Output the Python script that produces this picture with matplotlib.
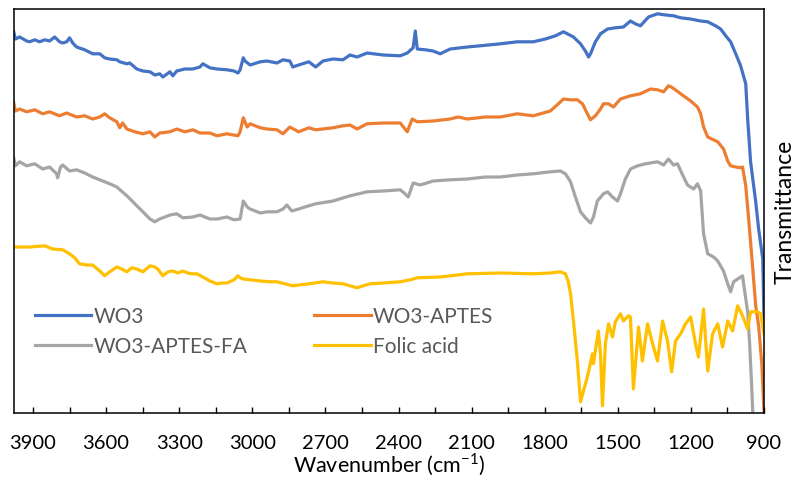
import matplotlib
matplotlib.use('Agg')
import matplotlib.pyplot as plt
from matplotlib.ticker import MultipleLocator

plt.rcParams['font.family'] = ['Lato', 'DejaVu Sans']
plt.rcParams['mathtext.fontset'] = 'custom'
plt.rcParams['mathtext.rm'] = 'Lato'

# FTIR spectra, wavenumber (cm-1) vs transmittance (offset, arbitrary units)
wn_wo3 = [3980, 3972, 3955, 3926, 3914, 3893, 3873, 3852, 3832, 3811, 3791, 3778, 3762, 3750, 3737,
          3721, 3688, 3655, 3626, 3606, 3585, 3556, 3544, 3515, 3503, 3474, 3449, 3420, 3400, 3380,
          3367, 3338, 3326, 3310, 3277, 3244, 3215, 3203, 3174, 3145, 3104, 3075, 3059, 3050, 3037,
          3030, 3009, 2967, 2940, 2899, 2874, 2846, 2834, 2810, 2768, 2740, 2710, 2669, 2628, 2599,
          2570, 2529, 2463, 2393, 2364, 2340, 2331, 2323, 2290, 2258, 2229, 2188, 2118, 2065, 1982,
          1913, 1847, 1797, 1756, 1723, 1707, 1682, 1653, 1633, 1620, 1612, 1592, 1571, 1542, 1510,
          1477, 1448, 1428, 1407, 1374, 1337, 1304, 1271, 1242, 1201, 1160, 1131, 1099, 1078, 1057,
          1037, 1016, 996, 975, 967, 955, 934, 922, 905, 900]
t_wo3 = [95.5, 93.5, 94.0, 93.0, 92.8, 93.3, 92.8, 93.3, 93.0, 94.0, 92.8, 92.5, 92.8, 93.8, 92.5,
         91.5, 90.8, 89.8, 89.8, 88.8, 88.5, 88.3, 87.8, 87.3, 87.5, 86.0, 85.5, 85.3, 84.5, 84.8,
         84.0, 85.3, 84.3, 85.5, 86.0, 86.0, 86.5, 87.3, 86.3, 86.0, 85.8, 85.5, 85.0, 85.8, 88.8,
         88.0, 87.0, 87.8, 88.0, 87.5, 88.3, 88.0, 86.5, 87.0, 87.8, 86.5, 88.0, 88.5, 88.3, 89.5,
         89.0, 90.0, 89.5, 89.3, 90.0, 91.3, 95.5, 91.0, 90.8, 90.5, 89.8, 91.0, 91.5, 91.8, 92.3,
         92.8, 92.8, 93.5, 94.3, 95.3, 94.8, 94.0, 92.3, 90.5, 89.0, 89.8, 92.8, 94.8, 96.0, 96.3,
         96.5, 98.0, 97.3, 96.8, 99.0, 99.8, 99.5, 99.3, 98.8, 98.5, 98.0, 97.8, 96.8, 96.0, 94.3,
         92.8, 89.8, 86.8, 82.3, 73.5, 62.8, 52.8, 46.0, 38.5, 23.5]

wn_aptes = [3980, 3972, 3955, 3926, 3893, 3860, 3832, 3791, 3762, 3721, 3688, 3655, 3626, 3606, 3585,
            3556, 3544, 3532, 3515, 3482, 3449, 3420, 3400, 3380, 3338, 3310, 3277, 3244, 3215, 3174,
            3145, 3104, 3059, 3050, 3037, 3021, 3009, 2967, 2940, 2899, 2874, 2846, 2810, 2768, 2740,
            2669, 2628, 2599, 2570, 2529, 2463, 2393, 2364, 2344, 2323, 2258, 2188, 2155, 2118, 2044,
            1982, 1913, 1847, 1777, 1744, 1723, 1694, 1666, 1645, 1629, 1612, 1592, 1571, 1559, 1538,
            1518, 1489, 1448, 1407, 1366, 1337, 1312, 1292, 1275, 1242, 1201, 1173, 1160, 1148, 1131,
            1090, 1066, 1049, 1037, 1016, 996, 988, 975, 963, 946, 934, 922, 909, 900]
t_aptes = [77.8, 75.5, 76.0, 75.3, 75.8, 74.8, 75.3, 74.3, 75.0, 74.0, 74.3, 73.5, 74.0, 74.8, 73.8,
           72.8, 71.3, 72.5, 71.0, 70.3, 69.8, 70.3, 69.0, 70.0, 70.3, 71.0, 70.3, 70.8, 70.0, 70.0,
           69.3, 69.8, 69.3, 70.3, 73.8, 71.5, 72.3, 71.3, 71.0, 70.8, 69.8, 71.5, 70.3, 71.3, 70.8,
           71.3, 71.8, 72.0, 71.0, 72.3, 72.5, 72.5, 70.3, 73.5, 72.8, 73.0, 73.5, 74.0, 73.5, 74.0,
           74.0, 74.8, 74.3, 75.5, 77.3, 78.5, 78.3, 78.3, 77.3, 75.3, 73.3, 74.3, 76.0, 77.3, 77.3,
           76.5, 78.5, 79.3, 79.8, 81.0, 80.8, 80.3, 81.8, 81.3, 79.8, 78.0, 76.5, 74.8, 71.5, 69.0,
           67.8, 66.0, 63.0, 61.8, 61.5, 61.3, 61.5, 56.8, 48.5, 36.0, 26.8, 21.8, 12.3, 0.3]

wn_fa_conj = [3980, 3972, 3955, 3926, 3893, 3860, 3832, 3803, 3799, 3787, 3778, 3750, 3721, 3688, 3655,
              3626, 3585, 3556, 3515, 3490, 3474, 3449, 3420, 3400, 3380, 3359, 3338, 3310, 3285, 3244,
              3215, 3174, 3145, 3104, 3075, 3050, 3037, 3021, 3009, 2967, 2940, 2899, 2874, 2858, 2838,
              2810, 2768, 2740, 2669, 2599, 2529, 2463, 2393, 2373, 2360, 2340, 2311, 2258, 2188, 2118,
              2044, 1982, 1913, 1847, 1777, 1736, 1715, 1694, 1674, 1653, 1633, 1612, 1600, 1584, 1559,
              1542, 1522, 1501, 1489, 1469, 1448, 1419, 1387, 1337, 1312, 1292, 1271, 1255, 1230, 1214,
              1189, 1173, 1160, 1148, 1131, 1107, 1090, 1066, 1049, 1037, 1025, 1008, 988, 979, 967,
              959, 951, 946]
t_fa_conj = [64.0, 61.8, 62.8, 61.8, 62.3, 61.0, 61.5, 59.8, 58.8, 61.5, 62.0, 60.5, 60.8, 60.0, 59.0,
             58.3, 57.3, 56.5, 54.3, 52.8, 51.8, 50.3, 48.5, 47.8, 48.5, 49.0, 49.5, 49.8, 48.8, 49.0,
             49.5, 48.5, 48.5, 49.0, 48.3, 48.5, 53.0, 51.5, 51.0, 50.0, 50.3, 50.3, 51.0, 52.0, 50.5,
             51.0, 51.8, 52.3, 53.0, 54.3, 55.3, 55.5, 55.8, 54.8, 54.0, 57.5, 57.0, 58.0, 58.3, 58.5,
             59.0, 59.0, 59.5, 59.8, 60.3, 60.5, 59.8, 57.8, 54.0, 50.3, 48.8, 47.5, 49.0, 53.0, 54.8,
             55.3, 54.0, 53.0, 54.8, 58.5, 61.0, 61.8, 62.3, 62.8, 62.0, 63.5, 62.0, 62.3, 59.0, 57.0,
             56.0, 57.3, 55.5, 44.8, 39.8, 39.0, 38.0, 35.5, 32.3, 30.3, 32.8, 33.5, 34.3, 30.3, 25.3,
             17.3, 7.3, 0.0]

wn_folic = [3980, 3914, 3852, 3820, 3778, 3750, 3729, 3709, 3680, 3655, 3626, 3606, 3585, 3556, 3536,
            3515, 3495, 3474, 3449, 3420, 3400, 3388, 3367, 3346, 3326, 3306, 3285, 3265, 3248, 3227,
            3203, 3174, 3145, 3124, 3104, 3075, 3059, 3050, 3037, 3009, 2967, 2927, 2899, 2866, 2834,
            2810, 2768, 2710, 2669, 2628, 2599, 2570, 2545, 2517, 2463, 2393, 2352, 2323, 2229, 2118,
            1982, 1847, 1777, 1736, 1715, 1703, 1694, 1682, 1666, 1653, 1641, 1625, 1604, 1600, 1580,
            1571, 1563, 1551, 1538, 1522, 1510, 1489, 1477, 1456, 1448, 1436, 1415, 1399, 1378, 1357,
            1337, 1316, 1296, 1279, 1263, 1242, 1222, 1201, 1181, 1169, 1148, 1131, 1111, 1090, 1070,
            1049, 1029, 1008, 988, 967, 955, 938, 926, 914, 900]
t_folic = [41.5, 41.5, 41.8, 41.0, 40.8, 39.8, 38.8, 37.3, 37.0, 37.0, 35.5, 34.3, 35.3, 36.5, 36.0,
           35.3, 36.3, 36.0, 35.3, 36.8, 36.5, 36.0, 34.3, 35.3, 35.5, 35.0, 35.5, 35.0, 34.8, 34.8,
           34.0, 33.0, 32.3, 32.5, 32.5, 33.3, 34.3, 33.8, 33.5, 33.3, 33.0, 32.8, 32.8, 32.3, 31.8,
           32.0, 32.3, 32.8, 32.5, 32.3, 31.8, 31.3, 31.8, 32.3, 32.5, 32.8, 33.3, 33.8, 34.0, 34.8,
           35.0, 34.8, 35.0, 35.3, 34.8, 32.8, 29.8, 23.0, 13.0, 2.8, 5.5, 9.0, 14.8, 12.3, 20.5,
           14.8, 1.8, 17.3, 22.3, 19.0, 22.8, 24.8, 23.0, 24.3, 24.0, 6.0, 21.5, 13.0, 22.3, 17.3,
           13.0, 23.0, 18.0, 10.3, 18.0, 19.8, 22.3, 24.0, 17.3, 14.0, 26.0, 10.5, 19.8, 22.3, 16.5,
           23.0, 20.5, 26.8, 24.3, 21.0, 25.3, 25.3, 25.3, 24.8, 19.8]

fig = plt.figure(figsize=(7.95, 4.85), dpi=100)
ax = fig.add_axes([14 / 795, 71 / 485, 750 / 795, 404 / 485])

lw = 2.3
l1, = ax.plot(wn_wo3, t_wo3, color='#4472C4', lw=lw, label='WO3')
l2, = ax.plot(wn_aptes, t_aptes, color='#ED7D31', lw=lw, label='WO3-APTES')
l3, = ax.plot(wn_fa_conj, t_fa_conj, color='#A5A5A5', lw=lw, label='WO3-APTES-FA')
l4, = ax.plot(wn_folic, t_folic, color='#FFC000', lw=lw, label='Folic acid')

ax.set_xlim(3978, 900)
ax.set_ylim(0, 101)
ax.xaxis.set_major_locator(MultipleLocator(300))
ax.xaxis.set_minor_locator(MultipleLocator(150))
ax.tick_params(axis='x', which='both', direction='in', length=4, width=1, colors='black')
ax.tick_params(axis='x', which='major', labelsize=14.5, pad=15)
ax.set_yticks([])
for s in ax.spines.values():
    s.set_color('black')
    s.set_linewidth(1.1)

ax.set_xlabel('Wavenumber (cm$^{-1}$)', fontsize=15.5, labelpad=0)
ax.yaxis.set_label_position('right')
ax.set_ylabel('Transmittance', fontsize=16.5, labelpad=8)

leg = ax.legend([l1, l3, l2, l4], ['WO3', 'WO3-APTES-FA', 'WO3-APTES', 'Folic acid'],
                ncol=2, frameon=False, fontsize=15, handlelength=2.7, handletextpad=0.12,
                labelspacing=0.5, columnspacing=3.2, borderpad=0, borderaxespad=0,
                loc='upper left', bbox_to_anchor=(35 / 795, 1 - 307 / 485),
                bbox_transform=fig.transFigure)
for t in leg.get_texts():
    t.set_color('#595959')

fig.savefig('out.png', dpi=100)
